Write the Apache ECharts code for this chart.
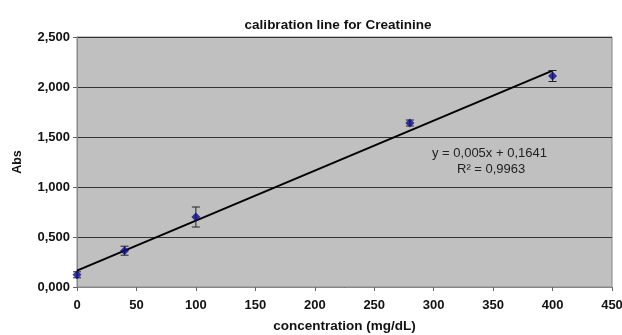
<!DOCTYPE html>
<html><head><meta charset="utf-8">
<script src="https://cdn.jsdelivr.net/npm/echarts@6/dist/echarts.min.js"></script>
<style>html,body{margin:0;padding:0;background:#fff}#c{width:622px;height:335px}</style>
</head><body><div id="c"></div>
<script>
const concentrations = [0, 40, 100, 280, 400];
const absorbance = [0.122, 0.363, 0.700, 1.640, 2.110];
const errors = [0.03, 0.045, 0.10, 0.03, 0.055];
const trendX = [0, 400];
const trendY = [0.1641, 2.1641];
const equationLines = ['y = 0,005x + 0,1641', 'R² = 0,9963'];

const fmtY = v => v.toFixed(3).replace('.', ',');
const chart = echarts.init(document.getElementById('c'));
const F = 'Liberation Sans, Arial, sans-serif';
chart.setOption({
  animation: false,
  backgroundColor: '#fff',
  title: {text: 'calibration line for Creatinine', left: 333, top: 13, textAlign: 'center',
    textStyle: {fontFamily: F, fontSize: 13.5, fontWeight: 'bold', color: '#111'}},
  grid: {left: 77, right: 10, top: 37, bottom: 48, show: true, containLabel: false, outerBoundsMode: 'none',
    backgroundColor: '#c0c0c0', borderColor: '#888', borderWidth: 1},
  xAxis: {type: 'value', min: 0, max: 450, interval: 50,
    name: 'concentration (mg/dL)', nameLocation: 'middle', nameGap: 32,
    nameTextStyle: {fontFamily: F, fontSize: 13.5, fontWeight: 'bold', color: '#111'},
    axisLine: {show: true, lineStyle: {color: '#888', width: 1}},
    axisTick: {show: true, length: 4, lineStyle: {color: '#666'}},
    axisLabel: {fontFamily: F, fontSize: 13, fontWeight: 'bold', color: '#111', margin: 12},
    splitLine: {show: false}},
  yAxis: {type: 'value', min: 0, max: 2.5, interval: 0.5,
    name: 'Abs', nameLocation: 'middle', nameGap: 53, nameRotate: 90,
    nameTextStyle: {fontFamily: F, fontSize: 12.5, fontWeight: 'bold', color: '#111'},
    axisLine: {show: true, lineStyle: {color: '#888', width: 1}},
    axisTick: {show: true, length: 4, lineStyle: {color: '#666'}},
    axisLabel: {fontFamily: F, fontSize: 13, fontWeight: 'bold', color: '#111', margin: 7, formatter: fmtY},
    splitLine: {show: true, lineStyle: {color: '#333', width: 1.2}}},
  series: [
    {type: 'line', data: trendX.map((x, i) => [x, trendY[i]]), symbol: 'none',
      lineStyle: {color: '#000', width: 2}, z: 3},
    {type: 'custom', z: 4,
      data: concentrations.map((x, i) => [x, absorbance[i] - errors[i], absorbance[i] + errors[i]]),
      renderItem: (params, api) => {
        const lo = api.coord([api.value(0), api.value(1)]);
        const hi = api.coord([api.value(0), api.value(2)]);
        const w = 4, st = {stroke: '#222', lineWidth: 1};
        return {type: 'group', children: [
          {type: 'line', shape: {x1: lo[0], y1: lo[1], x2: hi[0], y2: hi[1]}, style: st},
          {type: 'line', shape: {x1: lo[0]-w, y1: lo[1], x2: lo[0]+w, y2: lo[1]}, style: st},
          {type: 'line', shape: {x1: hi[0]-w, y1: hi[1], x2: hi[0]+w, y2: hi[1]}, style: st}
        ]};
      }},
    {type: 'scatter', z: 5, data: concentrations.map((x, i) => [x, absorbance[i]]),
      symbol: 'diamond', symbolSize: 9, itemStyle: {color: '#0a0a8c'}}
  ],
  graphic: [
    {type: 'text', left: 432, top: 147, style: {text: equationLines[0], font: '13px ' + F, fill: '#222'}},
    {type: 'text', left: 457, top: 163, style: {text: equationLines[1], font: '13px ' + F, fill: '#222'}}
  ]
});
</script></body></html>
